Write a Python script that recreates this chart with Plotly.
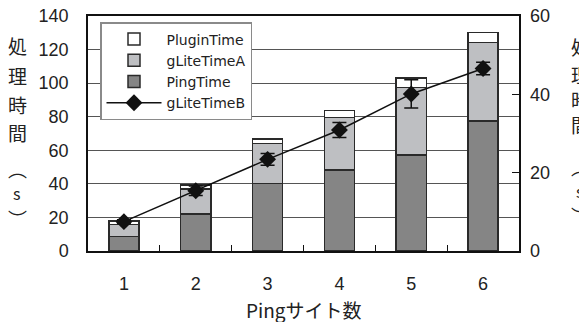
import plotly.graph_objects as go

categories = ["1", "2", "3", "4", "5", "6"]
ping_time = [8.5, 21.9, 40.3, 48.4, 57.2, 77.4]
glite_time_a = [7.4, 15.0, 23.8, 31.2, 40.3, 46.7]
plugin_time = [2.1, 2.4, 2.6, 4.0, 5.7, 6.2]
glite_time_b = [7.5, 15.4, 23.4, 30.9, 40.1, 46.6]
glite_time_b_err = [0.5, 1.2, 1.5, 1.9, 3.6, 1.6]
left_ticks = [0, 20, 40, 60, 80, 100, 120, 140]
right_ticks = [0, 20, 40, 60]

NUM_FONT = "Liberation Sans, Arial, sans-serif"
JP_FONT = "Noto Sans CJK JP, sans-serif"
EDGE = "#2a2a2a"

# page offset of the figure (body margin) and plot geometry in page pixels
OFF = 8
PL, PR, PT, PB = 88, 519, 16, 251
W, H = 587, 322
ML, MT = PL - OFF, PT - OFF
MR, MB = W - (PR - OFF), H - (PB - OFF)


def px(xp):
    return (xp - PL) / (PR - PL)


def py(yp):
    return (PB - yp) / (PB - PT)


fig = go.Figure()
fig.add_trace(go.Bar(x=categories, y=ping_time, name="PingTime", legendrank=3,
                     marker=dict(color="#858585", line=dict(color=EDGE, width=1.5))))
fig.add_trace(go.Bar(x=categories, y=glite_time_a, name="gLiteTimeA", legendrank=2,
                     marker=dict(color="#bebfc2", line=dict(color=EDGE, width=1.5))))
fig.add_trace(go.Bar(x=categories, y=plugin_time, name="PluginTime", legendrank=1,
                     marker=dict(color="#ffffff", line=dict(color=EDGE, width=1.5))))
fig.add_trace(go.Scatter(x=categories, y=glite_time_b, name="gLiteTimeB", legendrank=4,
                         yaxis="y2", mode="lines+markers",
                         line=dict(color="#111111", width=1.5),
                         marker=dict(symbol="diamond", size=13, color="#111111"),
                         error_y=dict(type="data", array=glite_time_b_err, visible=True,
                                      color="#111111", thickness=1.5, width=7)))

fig.update_layout(
    width=W, height=H,
    margin=dict(l=ML, r=MR, t=MT, b=MB, autoexpand=False),
    paper_bgcolor="white", plot_bgcolor="white",
    barmode="stack", bargap=0.58,
    showlegend=True,
    legend=dict(x=px(100), y=py(22), xanchor="left", yanchor="top",
                bgcolor="white", bordercolor="#8a8a8a", borderwidth=1.5,
                traceorder="normal", itemwidth=55, tracegroupgap=0,
                entrywidth=108, entrywidthmode="pixels",
                font=dict(family="DejaVu Sans, sans-serif", size=14, color="#222222")),
    xaxis=dict(type="category", showline=True, mirror=True, linecolor="#111111", linewidth=1.5,
               ticks="inside", ticklen=6, tickcolor="#111111", tickwidth=1.2,
               tickson="boundaries", showgrid=False, ticklabelstandoff=16, automargin=False,
               ticklabeloverflow="allow",
               tickfont=dict(family=NUM_FONT, size=18, color="#222222")),
    yaxis=dict(range=[0, 140], tickvals=left_ticks, showline=True, mirror=True,
               linecolor="#111111", linewidth=1.5, showgrid=True, gridcolor="#555555",
               gridwidth=1, ticks="", ticklabelstandoff=14, zeroline=False, automargin=False,
               ticklabeloverflow="allow",
               tickfont=dict(family=NUM_FONT, size=18, color="#222222")),
    yaxis2=dict(range=[0, 60], tickvals=right_ticks, overlaying="y", side="right",
                showgrid=False, zeroline=False, ticks="inside", ticklen=7,
                tickcolor="#111111", tickwidth=1.2, ticklabelstandoff=10, automargin=False,
                ticklabeloverflow="allow",
                tickfont=dict(family=NUM_FONT, size=18, color="#222222")),
)

annotations = []
left_chars = [("処", 46), ("理", 75), ("時", 104), ("間", 132), ("︵", 168), ("s", 193), ("︶", 218)]
right_chars = [("処", 47), ("理", 74), ("時", 100), ("間", 124), ("︵", 167), ("s", 191), ("︶", 215)]
for ch, ypx in left_chars:
    annotations.append(dict(text=ch, xref="paper", yref="paper",
                            x=px(17), y=py(ypx),
                            xanchor="center", yanchor="middle", showarrow=False,
                            font=dict(family=JP_FONT, size=19 if ch != "s" else 16, color="#222222")))
for ch, ypx in right_chars:
    annotations.append(dict(text=ch, xref="paper", yref="paper",
                            x=px(580), y=py(ypx),
                            xanchor="center", yanchor="middle", showarrow=False,
                            font=dict(family=JP_FONT, size=19 if ch != "s" else 16, color="#222222")))
annotations.append(dict(text="Pingサイト数", xref="paper", yref="paper",
                        x=px(304), y=py(309), xanchor="center", yanchor="middle",
                        showarrow=False, font=dict(family=JP_FONT, size=19, color="#222222")))
fig.update_layout(annotations=annotations)

fig.write_html("out.html")
